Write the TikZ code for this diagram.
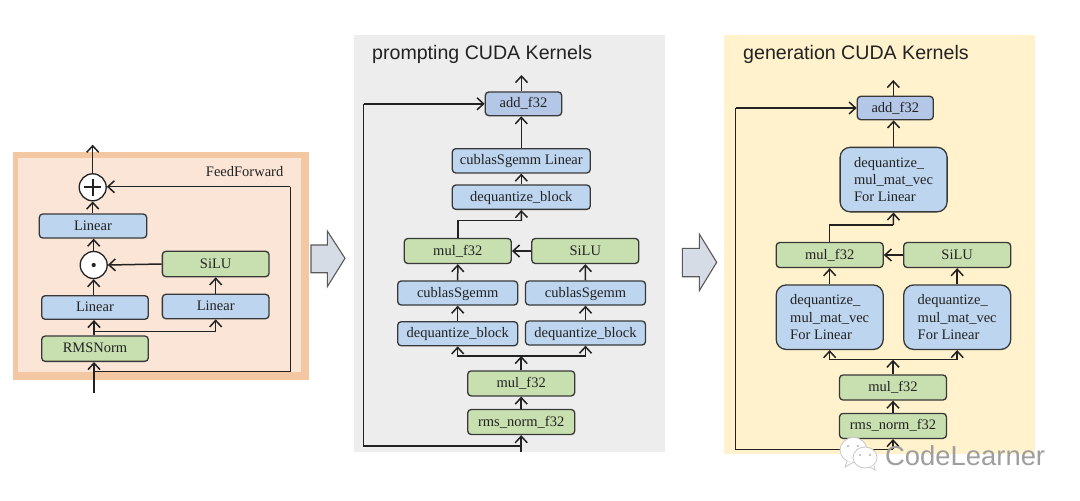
\documentclass[tikz,border=0pt]{standalone}
\usepackage{fontspec}
\setmainfont{Liberation Serif}
\setsansfont{Liberation Sans}
\usetikzlibrary{arrows.meta,calc}
\definecolor{peachedge}{HTML}{F4C7A3}
\definecolor{peachfill}{HTML}{FBE5D6}
\definecolor{greypanel}{HTML}{EDEDED}
\definecolor{creampanel}{HTML}{FFF2CC}
\definecolor{blockblue}{HTML}{BDD5EE}
\definecolor{addblue}{HTML}{B4C7E7}
\definecolor{blockgreen}{HTML}{C8DFB0}
\definecolor{bigarrow}{HTML}{D6DCE5}
\definecolor{ink}{HTML}{222222}
\tikzset{
  x=1pt,y=-1pt,
  block/.style={draw=ink!90,line width=1.3pt,rounded corners=3.5pt,inner sep=0pt,font=\fontsize{14.5}{16}\selectfont,text=ink,anchor=center},
  oneline/.style={text height=11pt,text depth=3pt},
  bluebox/.style={block,oneline,fill=blockblue},
  addbox/.style={block,oneline,fill=addblue},
  greenbox/.style={block,oneline,fill=blockgreen},
  wide/.style={minimum width=107pt,minimum height=25pt},
  widest/.style={minimum width=120pt,minimum height=24pt},
  tall/.style={block,fill=blockblue,rounded corners=10pt,minimum width=107pt,minimum height=64.5pt,align=left,font=\fontsize{14.5}{17.2}\selectfont},
  op/.style={circle,draw=ink,line width=1.3pt,fill=white,minimum size=27pt,inner sep=0pt},
  conn/.style={draw=ink,line width=1.5pt,-{Straight Barb[length=6.5pt,width=12pt,line width=1.5pt]}},
  line/.style={draw=ink,line width=1.5pt},
  title/.style={font=\sffamily\fontsize{19.6}{22}\selectfont,text=ink,anchor=base west,inner sep=0pt},
  hollow/.style={draw=ink!75,line width=1.1pt,fill=bigarrow,line join=miter},
  bubble/.style={fill=white,draw=black!22,line width=.8pt},
}
\begin{document}
\begin{tikzpicture}
\useasboundingbox (0,0) rectangle (1080,501);

% Panels
\fill[peachedge] (12.7,151.7) rectangle (309,380);
\fill[peachfill] (18.3,158) rectangle (301,372);
\fill[greypanel] (354,35) rectangle (665,452);
\fill[creampanel] (724,35) rectangle (1035,454);

\node[font=\fontsize{14.5}{16}\selectfont,text=ink,inner sep=0pt,anchor=base east] (ffLabel) at (283.5,176.5) {FeedForward};
\node[title] (pTitle) at (372,59) {prompting CUDA Kernels};
\node[title] (gTitle) at (743,59) {generation CUDA Kernels};

% FeedForward block
\node[op] (plus) at (92.7,187.3) {};
\draw[line width=2pt,draw=ink] ($(plus.center)+(-8.5,0)$) -- ($(plus.center)+(8.5,0)$) ($(plus.center)+(0,-8.5)$) -- ($(plus.center)+(0,8.5)$);
\node[op] (dot) at (93.7,265) {};
\fill[ink] (dot.center) circle (2.1pt);
\node[bluebox,minimum width=107.4pt,minimum height=24pt] (fLinTop) at (93,226) {Linear};
\node[greenbox,minimum width=106.7pt,minimum height=25.4pt] (fSilu) at (215.7,264) {SiLU};
\node[bluebox,minimum width=106.6pt,minimum height=23.6pt] (fLinL) at (95,307.5) {Linear};
\node[bluebox,minimum width=106.7pt,minimum height=24.4pt] (fLinR) at (215.7,306.5) {Linear};
\node[greenbox,minimum width=106.6pt,minimum height=25.3pt] (fNorm) at (95,348.7) {RMSNorm};
\coordinate (fIn) at (94,393);
\coordinate (fOut) at (92.7,144.7);
\coordinate (fTap) at (94,371.3);
\coordinate (fCorner) at (290.3,186.7);
\coordinate (fBranch) at (94,331.7);
\draw[conn] (fIn) -- (fNorm.south -| fIn);
\draw[line] (fTap) -| (fCorner);
\draw[conn] (fCorner) -- (plus.east |- fCorner);
\draw[conn] (fNorm.north -| fBranch) -- (fLinL.south -| fBranch);
\draw[conn] (fBranch) -| (fLinR.south);
\draw[conn] (fLinL.north -| dot) -- (dot.south);
\draw[conn] (fSilu.west) -- (dot.east);
\draw[conn] (fLinR.north) -- (fSilu.south);
\draw[conn] (dot.north) -- (fLinTop.south -| dot);
\draw[conn] (fLinTop.north -| plus) -- (plus.south);
\draw[conn] (plus.north) -- (fOut);

% Arrows between the panels
\draw[hollow] (311,245) -- (327.3,245) -- (327.3,231) -- (345,258.3) -- (327.3,286.7) -- (327.3,272.7) -- (311,272.7) -- cycle;
\draw[hollow] (682.3,248.3) -- (699.3,248.3) -- (699.3,234) -- (716.7,262.3) -- (699.3,290.7) -- (699.3,276.7) -- (682.3,276.7) -- cycle;

% Prompting kernels
\node[addbox,minimum width=76.4pt,minimum height=23.7pt] (pAdd) at (523.5,103.8) {add\_f32};
\node[bluebox,minimum width=138pt,minimum height=24.3pt] (pGemmLin) at (521.3,160.8) {cublasSgemm Linear};
\node[bluebox,minimum width=138pt,minimum height=24.3pt] (pDeqTop) at (521.3,197.2) {dequantize\_block};
\node[greenbox,wide] (pMulA) at (457.8,251) {mul\_f32};
\node[greenbox,wide] (pSilu) at (585.3,251) {SiLU};
\node[bluebox,widest] (pGemmL) at (457.7,293) {cublasSgemm};
\node[bluebox,widest] (pGemmR) at (585.5,293) {cublasSgemm};
\node[bluebox,widest] (pDeqL) at (457.7,333.7) {dequantize\_block};
\node[bluebox,widest] (pDeqR) at (585.5,333) {dequantize\_block};
\node[greenbox,wide] (pMulB) at (521.2,383.4) {mul\_f32};
\node[greenbox,wide] (pNorm) at (521.2,422) {rms\_norm\_f32};
\coordinate (pIn) at (521.2,451.5);
\coordinate (pLoop) at (363.7,446);
\coordinate (pOut) at (521.5,75);
\coordinate (pJoin) at (521.5,220.7);
\coordinate (pSplit) at (521.2,356);
\draw[conn] (pIn) -- (pNorm.south);
\draw[line] (pIn |- pLoop) -- (pLoop) -- (pLoop |- pAdd.west);
\draw[conn] (pLoop |- pAdd.west) -- (pAdd.west);
\draw[conn] (pNorm.north) -- (pMulB.south);
\draw[conn] (pMulB.north) -- (pSplit);
\draw[conn] (pSplit) -| (pDeqL.south);
\draw[conn] (pSplit) -| (pDeqR.south);
\draw[conn] (pDeqL.north) -- (pGemmL.south);
\draw[conn] (pDeqR.north) -- (pGemmR.south);
\draw[conn] (pGemmL.north) -- (pMulA.south);
\draw[conn] (pGemmR.north) -- (pSilu.south);
\draw[conn] (pSilu.west) -- (pMulA.east);
\draw[line] (pMulA.north) |- (pJoin);
\draw[conn] (pJoin) -- (pDeqTop.south);
\draw[conn] (pDeqTop.north) -- (pGemmLin.south);
\draw[conn] (pGemmLin.north) -- (pAdd.south -| pGemmLin);
\draw[conn] (pAdd.north -| pOut) -- (pOut);

% Generation kernels
\node[addbox,minimum width=76pt,minimum height=23.4pt] (gAdd) at (895.3,108) {add\_f32};
\node[tall] (gDeqTop) at (893.6,179.6) {dequantize\_\\mul\_mat\_vec\\For Linear};
\node[greenbox,wide] (gMulA) at (829.7,255) {mul\_f32};
\node[greenbox,wide] (gSilu) at (957.2,255) {SiLU};
\node[tall] (gDeqL) at (829.7,317.2) {dequantize\_\\mul\_mat\_vec\\For Linear};
\node[tall] (gDeqR) at (957.2,317.2) {dequantize\_\\mul\_mat\_vec\\For Linear};
\node[greenbox,wide] (gMulB) at (893,387.5) {mul\_f32};
\node[greenbox,wide] (gNorm) at (893,425.9) {rms\_norm\_f32};
\coordinate (gIn) at (893,449.3);
\coordinate (gLoop) at (735.7,449.3);
\coordinate (gOut) at (893.3,80);
\coordinate (gJoin) at (893.3,225);
\coordinate (gSplit) at (893,359.7);
\draw[conn] (gIn) -- (gNorm.south);
\draw[line] (gIn) -- (gLoop) -- (gLoop |- gAdd.west);
\draw[conn] (gLoop |- gAdd.west) -- (gAdd.west);
\draw[conn] (gNorm.north) -- (gMulB.south);
\draw[conn] (gMulB.north) -- (gSplit);
\draw[conn] (gSplit) -| (gDeqL.south);
\draw[conn] (gSplit) -| (gDeqR.south);
\draw[conn] (gDeqL.north) -- (gMulA.south);
\draw[conn] (gDeqR.north) -- (gSilu.south);
\draw[conn] (gSilu.west) -- (gMulA.east);
\draw[line] (gMulA.north) |- (gJoin);
\draw[conn] (gJoin) -- (gDeqTop.south);
\draw[conn] (gDeqTop.north) -- (gDeqTop.north |- gAdd.south);
\draw[conn] (gAdd.north -| gOut) -- (gOut);

% Channel mark
\draw[bubble] (853.5,450) ellipse (13.5pt and 12.5pt);
\draw[bubble] (847,461) -- (845,467) -- (853,462.5);
\fill[black!30] (848,446) circle (1.2pt) (858,446) circle (1.2pt);
\draw[bubble] (865,457.5) ellipse (12pt and 10.5pt);
\draw[bubble] (870,467) -- (875,470) -- (874,465);
\fill[black!30] (860,455) circle (1.1pt) (870,455) circle (1.1pt);
\node[font=\sffamily\fontsize{27.4}{30}\selectfont,text=black!38,anchor=base west,inner sep=0pt] (mark) at (885,465.5) {CodeLearner};
\end{tikzpicture}
\end{document}
